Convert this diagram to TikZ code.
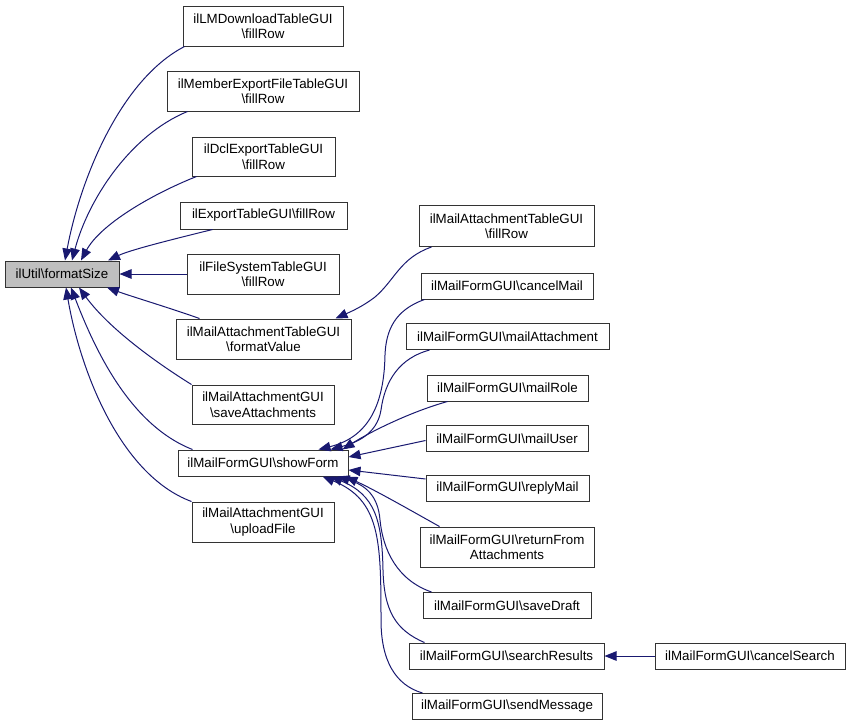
\documentclass[tikz,border=0pt]{standalone}
\usepackage{fontspec}
\setmainfont{Liberation Sans}
\usetikzlibrary{arrows.meta,calc}
\definecolor{mblue}{HTML}{191970}
\definecolor{nodegray}{HTML}{BFBFBF}
\tikzset{
  box/.style={draw=black!80, line width=1pt, rectangle, inner sep=0pt, align=center,
    font=\fontsize{13.33}{15.5}\selectfont},
  edge/.style={draw=mblue, line width=1pt, -{Triangle[length=12pt,width=9.5pt]}}
}
\begin{document}
\begin{tikzpicture}[x=1pt,y=-1pt]
\useasboundingbox (0,0) rectangle (851,726);
% left column
\node[box, fill=nodegray, minimum width=114pt, minimum height=26pt] (fs) at (62,274) {ilUtil\textbackslash formatSize};
\node[box, minimum width=160pt, minimum height=40pt] (lm) at (263,26) {ilLMDownloadTableGUI\\\textbackslash fillRow};
\node[box, minimum width=192pt, minimum height=40pt] (me) at (263,91) {ilMemberExportFileTableGUI\\\textbackslash fillRow};
\node[box, minimum width=143pt, minimum height=39pt] (dcl) at (263.5,156.5) {ilDclExportTableGUI\\\textbackslash fillRow};
\node[box, minimum width=167pt, minimum height=27pt] (exp) at (263.5,215.5) {ilExportTableGUI\textbackslash fillRow};
\node[box, minimum width=152pt, minimum height=40pt] (fsys) at (263,274) {ilFileSystemTableGUI\\\textbackslash fillRow};
\node[box, minimum width=175pt, minimum height=40pt] (fv) at (263.5,339) {ilMailAttachmentTableGUI\\\textbackslash formatValue};
\node[box, minimum width=142pt, minimum height=39pt] (sa) at (263,404.5) {ilMailAttachmentGUI\\\textbackslash saveAttachments};
\node[box, minimum width=170pt, minimum height=26pt] (sf) at (263,463) {ilMailFormGUI\textbackslash showForm};
\node[box, minimum width=142pt, minimum height=40pt] (uf) at (263,522) {ilMailAttachmentGUI\\\textbackslash uploadFile};
% right column
\node[box, minimum width=175pt, minimum height=41pt] (atfr) at (506.5,226) {ilMailAttachmentTableGUI\\\textbackslash fillRow};
\node[box, minimum width=172pt, minimum height=26pt] (cm) at (507,286) {ilMailFormGUI\textbackslash cancelMail};
\node[box, minimum width=203pt, minimum height=26pt] (ma) at (507.5,336.5) {ilMailFormGUI\textbackslash mailAttachment};
\node[box, minimum width=161pt, minimum height=26pt] (mr) at (507.5,388) {ilMailFormGUI\textbackslash mailRole};
\node[box, minimum width=162pt, minimum height=26pt] (mu) at (507,438.5) {ilMailFormGUI\textbackslash mailUser};
\node[box, minimum width=163pt, minimum height=26pt] (rm) at (507.5,488) {ilMailFormGUI\textbackslash replyMail};
\node[box, minimum width=174pt, minimum height=40pt] (rf) at (507,547) {ilMailFormGUI\textbackslash returnFrom\\Attachments};
\node[box, minimum width=168pt, minimum height=26pt] (sd) at (507,605.5) {ilMailFormGUI\textbackslash saveDraft};
\node[box, minimum width=195pt, minimum height=26pt] (sr) at (506.5,656) {ilMailFormGUI\textbackslash searchResults};
\node[box, minimum width=190pt, minimum height=26pt] (cs) at (750,656) {ilMailFormGUI\textbackslash cancelSearch};
\node[box, minimum width=190pt, minimum height=26pt] (sm) at (507,706.5) {ilMailFormGUI\textbackslash sendMessage};
% edges into formatSize
\draw[edge] ($(lm.south west)+(2,0)$) .. controls (120,80) and (80,180) .. ($(fs.north)+(3,0)$);
\draw[edge] ($(me.south west)+(21,0)$) .. controls (130,135) and (88,200) .. ($(fs.north)+(10,0)$);
\draw[edge] ($(dcl.south west)+(5,0)$) .. controls (150,195) and (100,225) .. ($(fs.north)+(19,0)$);
\draw[edge] ($(exp.south west)+(33,0)$) .. controls (170,240) and (130,250) .. ($(fs.north)+(46,0)$);
\draw[edge] (fsys.west) -- (fs.east);
\draw[edge] ($(fv.north west)+(24,0)$) .. controls (170,308) and (130,296) .. ($(fs.south)+(45,0)$);
\draw[edge] (sa.north west) .. controls (160,365) and (110,330) .. ($(fs.south)+(17,0)$);
\draw[edge] ($(sf.north west)+(15,0)$) .. controls (130,425) and (95,350) .. ($(fs.south)+(9,0)$);
\draw[edge] (uf.north west) .. controls (120,475) and (80,370) .. ($(fs.south)+(4,0)$);
% edge into formatValue
\draw[edge] ($(atfr.south west)+(13,0)$) .. controls (400,258) and (395,280) .. (375,297) .. controls (362,307) and (350,312) .. ($(fv.north east)+(-16,0)$);
% edges into showForm
\draw[edge] ($(cm.south west)+(4,0)$) .. controls (395,310) and (386,330) .. (385,355) .. controls (384,410) and (365,438) .. ($(sf.north east)+(-30,0)$);
\draw[edge] ($(ma.south west)+(24,0)$) .. controls (400,358) and (385,380) .. (381,410) .. controls (377,435) and (355,443) .. ($(sf.north east)+(-18,0)$);
\draw[edge] ($(mr.south west)+(21,0)$) .. controls (410,412) and (370,432) .. ($(sf.north east)+(-6,0)$);
\draw[edge] ($(mu.west)+(0,2)$) -- ($(sf.east)+(0,-6)$);
\draw[edge] ($(rm.west)+(0,-9)$) -- ($(sf.east)+(0,7)$);
\draw[edge] ($(rf.north west)+(20,0)$) .. controls (410,510) and (375,490) .. ($(sf.south east)+(-3,0)$);
\draw[edge] ($(sd.north west)+(9,0)$) .. controls (397,580) and (383,550) .. (380,520) .. controls (378,495) and (365,485) .. ($(sf.south east)+(-11,0)$);
\draw[edge] ($(sr.north west)+(16,0)$) .. controls (395,630) and (384,610) .. (383,570) .. controls (382,520) and (375,495) .. ($(sf.south east)+(-18,0)$);
\draw[edge] ($(sm.north west)+(11,0)$) .. controls (395,685) and (381,660) .. (381,620) .. controls (381,540) and (380,500) .. ($(sf.south east)+(-26,0)$);
% searchResults
\draw[edge] (cs.west) -- (sr.east);
\end{tikzpicture}
\end{document}
